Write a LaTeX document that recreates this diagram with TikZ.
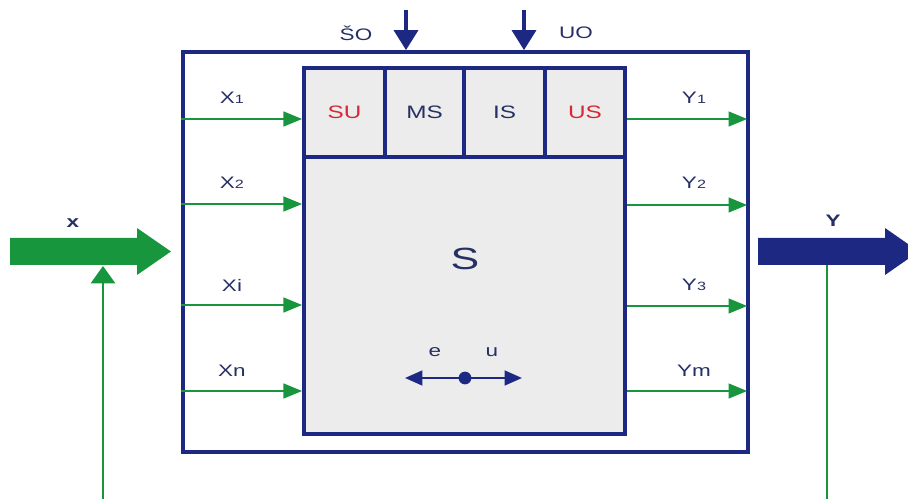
\documentclass[tikz,border=0pt]{standalone}
\usepackage{fontspec}
\setmainfont{Liberation Sans}
\usetikzlibrary{arrows.meta}
\definecolor{gr}{RGB}{24,150,62}
\definecolor{nb}{RGB}{28,40,130}
\definecolor{tx}{RGB}{38,48,100}
\definecolor{rd}{RGB}{214,40,52}
\definecolor{cellfill}{RGB}{236,236,236}
\newcommand{\wide}[1]{\scalebox{1.35}[1]{#1}}
\newcommand{\sub}[1]{{\fontsize{9}{10}\selectfont #1}}
\tikzset{
  px/.style={x=0.75pt,y=-0.75pt},
  frame/.style={draw=nb,line width=2.8pt,inner sep=0pt},
  cell/.style={draw=nb,line width=2.8pt,fill=cellfill,inner sep=0pt,minimum height=66.75pt},
  garrow/.style={draw=gr,line width=1.8pt,-{Triangle[length=14pt,width=11pt]}},
  barrow/.style={draw=nb,line width=2.6pt,-{Triangle[length=15pt,width=18pt]}},
  fbarrow/.style={draw=gr,line width=2.2pt,-{Triangle[length=13pt,width=18pt]}},
  lbl/.style={text=tx,font=\fontsize{12.5}{14}\selectfont,inner sep=0pt},
  clbl/.style={font=\fontsize{13.5}{15}\selectfont,inner sep=0pt},
}
\begin{document}
\begin{tikzpicture}[px]
\useasboundingbox (0,0) rectangle (908,499);
% outer box
\node[frame,minimum width=423.75pt,minimum height=300pt] (outer) at (465.5,252) {};
% inner box S
\node[frame,fill=cellfill,minimum width=240.75pt,minimum height=274.5pt] (S) at (464.5,251) {};
% cells
\node[cell,minimum width=60.75pt] (SU) at (344.5,112.5) {};
\node[cell,minimum width=59.25pt] (MS) at (424.5,112.5) {};
\node[cell,minimum width=60.75pt] (IS) at (504.5,112.5) {};
\node[cell,minimum width=60pt] (US) at (585,112.5) {};
\node[clbl,text=rd] at (SU) {\wide{SU}};
\node[clbl,text=tx] at (MS) {\wide{MS}};
\node[clbl,text=tx] at (IS) {\wide{IS}};
\node[clbl,text=rd] at (US) {\wide{US}};
\node[text=tx,font=\fontsize{23}{25}\selectfont,inner sep=0pt] (Slbl) at (465,259) {\scalebox{1.4}[1]{S}};
% top inputs
\coordinate (so) at (406,10);
\coordinate (uo) at (524,10);
\draw[barrow] (so) -- (so |- outer.north);
\draw[barrow] (uo) -- (uo |- outer.north);
\node[lbl] (solbl) at (356,33) {\wide{ŠO}};
\node[lbl] (uolbl) at (576,33) {\wide{UO}};
% input rows
\foreach \n/\y/\t/\ly in {1/119/X\sub{1}/98, 2/204/X\sub{2}/183, 3/305/Xi/285, 4/391/Xn/371}{
  \coordinate (r\n) at (0,\y);
  \draw[garrow] (outer.west |- r\n) -- (S.west |- r\n);
  \node[lbl] (xl\n) at (232,\ly) {\wide{\t}};
}
\foreach \n/\y/\t/\ly in {1/119/Y\sub{1}/98, 2/205/Y\sub{2}/183, 3/306/Y\sub{3}/285, 4/391/Ym/371}{
  \coordinate (q\n) at (0,\y);
  \draw[garrow] (S.east |- q\n) -- ([xshift=-2pt]outer.east |- q\n);
  \node[lbl] (yl\n) at (694,\ly) {\wide{\t}};
}
% e-u arrow
\coordinate (eu) at (465,378);
\coordinate (el) at (405,378);
\coordinate (ur) at (522,378);
\draw[nb,line width=1.8pt,-{Triangle[length=13pt,width=11pt]}] (eu) -- (el);
\draw[nb,line width=1.8pt,-{Triangle[length=13pt,width=11pt]}] (eu) -- (ur);
\fill[nb] (eu) circle (4.8pt);
\node[lbl] (elbl) at (435,352) {\wide{e}};
\node[lbl] (ulbl) at (492,352) {\wide{u}};
% big X arrow
\fill[gr] (10,238) -- (137,238) -- (137,228) -- (171,251.5) -- (137,275) -- (137,265) -- (10,265) -- cycle;
\node[lbl,font=\bfseries\fontsize{12.5}{14}\selectfont] (xlbl) at (73,223) {\wide{x}};
\coordinate (xin) at (103,266);
\coordinate (xfb) at (103,499);
\draw[fbarrow] (xfb) -- (xin);
% big Y arrow
\fill[nb] (758,238) -- (885,238) -- (885,228) -- (908,244) -- (908,259) -- (885,275) -- (885,265) -- (758,265) -- cycle;
\node[lbl,font=\bfseries\fontsize{12.5}{14}\selectfont] (ylbl) at (833,221) {\wide{Y}};
\coordinate (yout) at (827,265);
\coordinate (yfb) at (827,499);
\draw[gr,line width=2pt] (yout) -- (yfb);
\end{tikzpicture}
\end{document}
